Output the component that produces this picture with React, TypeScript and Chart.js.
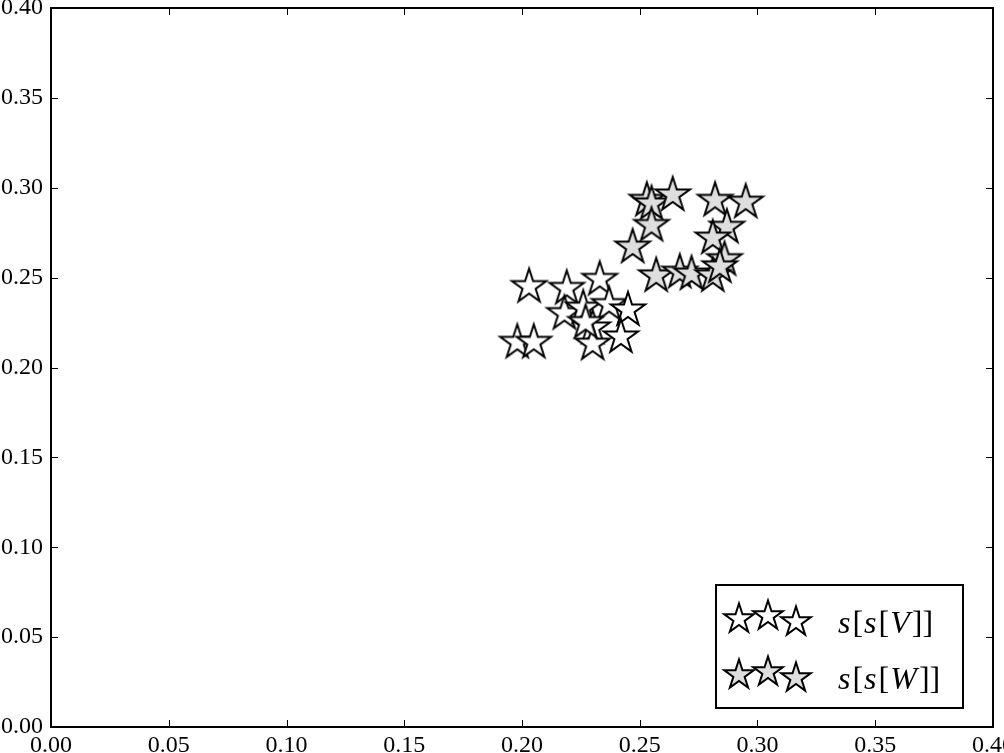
import { useEffect, useRef } from "react";
import { Chart, registerables } from "chart.js";

Chart.register(...registerables);

const xTicks = [0, 0.05, 0.1, 0.15, 0.2, 0.25, 0.3, 0.35, 0.4];
const yTicks = [0, 0.05, 0.1, 0.15, 0.2, 0.25, 0.3, 0.35, 0.4];

const seriesVLabel = "V";
const seriesVX = [0.198, 0.205, 0.203, 0.219, 0.233, 0.218, 0.226, 0.237, 0.245, 0.230, 0.230, 0.242, 0.227];
const seriesVY = [0.214, 0.214, 0.245, 0.244, 0.249, 0.230, 0.233, 0.235, 0.232, 0.222, 0.213, 0.217, 0.225];

const seriesWLabel = "W";
const seriesWX = [0.253, 0.255, 0.264, 0.255, 0.247, 0.282, 0.295, 0.287, 0.281, 0.286, 0.257, 0.267, 0.272, 0.281, 0.284];
const seriesWY = [0.293, 0.291, 0.296, 0.279, 0.267, 0.293, 0.292, 0.278, 0.272, 0.260, 0.251, 0.253, 0.252, 0.251, 0.256];

const WHITE_FILL = "#ffffff";
const GRAY_FILL = "#dedede";
const TICK_FONT = "Liberation Serif";

function makeStar(R: number, fill: string, stroke: string, lw: number) {
  const size = Math.ceil(2 * R + 2 * lw + 4);
  const c = document.createElement("canvas");
  c.width = size;
  c.height = size;
  const ctx = c.getContext("2d")!;
  drawStar(ctx, size / 2, size / 2, R, fill, stroke, lw);
  return c;
}

function drawStar(ctx: CanvasRenderingContext2D, cx: number, cy: number, R: number, fill: string, stroke: string, lw: number) {
  ctx.save();
  ctx.beginPath();
  for (let i = 0; i < 10; i++) {
    const r = i % 2 === 0 ? R : R * 0.381966;
    const a = -Math.PI / 2 + (i * Math.PI) / 5;
    const px = cx + r * Math.cos(a);
    const py = cy + r * Math.sin(a);
    if (i === 0) ctx.moveTo(px, py);
    else ctx.lineTo(px, py);
  }
  ctx.closePath();
  ctx.fillStyle = fill;
  ctx.fill();
  ctx.lineWidth = lw;
  ctx.lineJoin = "miter";
  ctx.strokeStyle = stroke;
  ctx.stroke();
  ctx.restore();
}

function drawMathLabel(ctx: CanvasRenderingContext2D, x: number, y: number, letter: string) {
  const parts: [string, boolean][] = [
    ["s", true],
    ["[", false],
    ["s", true],
    ["[", false],
    [letter, true],
    ["]]", false],
  ];
  let cx = x;
  ctx.textBaseline = "alphabetic";
  ctx.textAlign = "left";
  ctx.fillStyle = "#000";
  for (const [t, it] of parts) {
    ctx.font = `${it ? "italic " : ""}32px "${TICK_FONT}"`;
    ctx.fillText(t, cx, y);
    cx += ctx.measureText(t).width + (it ? 2 : 1);
  }
}

const framePlugin = {
  id: "frameTicks",
  afterDraw(chart: any) {
    const { ctx, chartArea, scales } = chart;
    const { left, top, right, bottom } = chartArea;
    ctx.save();
    ctx.strokeStyle = "#000";
    ctx.lineWidth = 1;
    const tl = 7;
    for (const t of scales.x.ticks) {
      const px = Math.round(scales.x.getPixelForValue(t.value)) + 0.5;
      ctx.beginPath();
      ctx.moveTo(px, bottom);
      ctx.lineTo(px, bottom - tl);
      ctx.moveTo(px, top);
      ctx.lineTo(px, top + tl);
      ctx.stroke();
    }
    for (const t of scales.y.ticks) {
      const py = Math.round(scales.y.getPixelForValue(t.value)) + 0.5;
      ctx.beginPath();
      ctx.moveTo(left, py);
      ctx.lineTo(left + tl, py);
      ctx.moveTo(right, py);
      ctx.lineTo(right - tl, py);
      ctx.stroke();
    }
    ctx.lineWidth = 2;
    ctx.strokeRect(left, top, right - left, bottom - top);

    // legend
    const bx = right - 277;
    const by = bottom - 142;
    const bw = 247;
    const bh = 123;
    ctx.fillStyle = "#fff";
    ctx.fillRect(bx, by, bw, bh);
    ctx.lineWidth = 2;
    ctx.strokeStyle = "#000";
    ctx.strokeRect(bx, by, bw, bh);
    const starX = [23, 52, 80];
    const starDY = [2, -1, 5];
    const rows = [
      { fill: WHITE_FILL, label: seriesVLabel, cy: 32 },
      { fill: GRAY_FILL, label: seriesWLabel, cy: 88 },
    ];
    for (const r of rows) {
      for (let i = 0; i < 3; i++) {
        drawStar(ctx, bx + starX[i], by + r.cy + starDY[i], 15.5, r.fill, "#000", 2);
      }
      drawMathLabel(ctx, bx + 122, by + r.cy + 16, r.label);
    }
    ctx.restore();
  },
};

export default function App() {
  const ref = useRef<HTMLCanvasElement | null>(null);
  useEffect(() => {
    document.body.style.margin = "0";
    const canvas = ref.current!;
    const whiteStar = makeStar(18, WHITE_FILL, "#000", 2);
    const grayStar = makeStar(18, GRAY_FILL, "#000", 2);
    const chart = new Chart(canvas, {
      type: "scatter",
      data: {
        datasets: [
          {
            label: "s[s[V]]",
            data: seriesVX.map((x, i) => ({ x, y: seriesVY[i] })),
            pointStyle: whiteStar as any,
            pointRadius: 18,
            order: 2,
          },
          {
            label: "s[s[W]]",
            data: seriesWX.map((x, i) => ({ x, y: seriesWY[i] })),
            pointStyle: grayStar as any,
            pointRadius: 18,
            order: 1,
          },
        ],
      },
      options: {
        responsive: false,
        animation: false,
        devicePixelRatio: 1,
        layout: { autoPadding: false, padding: { top: 8, right: 11, left: 0, bottom: 0 } },
        plugins: {
          legend: { display: false },
          tooltip: { enabled: false },
        },
        scales: {
          x: {
            type: "linear",
            min: 0,
            max: 0.4,
            border: { display: false },
            grid: { display: false, drawTicks: false },
            afterBuildTicks: (s: any) => {
              s.ticks = xTicks.map((v) => ({ value: v }));
            },
            ticks: {
              padding: 4,
              maxRotation: 0,
              autoSkip: false,
              color: "#000",
              font: { family: TICK_FONT, size: 24 },
              callback: (v: any) => Number(v).toFixed(2),
            },
            afterFit: (s: any) => {
              s.height = 26;
              s.paddingLeft = 0;
              s.paddingRight = 0;
            },
          },
          y: {
            type: "linear",
            min: 0,
            max: 0.4,
            border: { display: false },
            grid: { display: false, drawTicks: false },
            afterBuildTicks: (s: any) => {
              s.ticks = yTicks.map((v) => ({ value: v }));
            },
            ticks: {
              padding: 8,
              autoSkip: false,
              color: "#000",
              font: { family: TICK_FONT, size: 24 },
              callback: (v: any) => Number(v).toFixed(2),
            },
            afterFit: (s: any) => {
              s.width = 51;
              s.paddingTop = 0;
              s.paddingBottom = 0;
            },
          },
        },
      },
      plugins: [framePlugin],
    });
    return () => chart.destroy();
  }, []);
  return <canvas ref={ref} width={1004} height={753} style={{ display: "block" }} />;
}
